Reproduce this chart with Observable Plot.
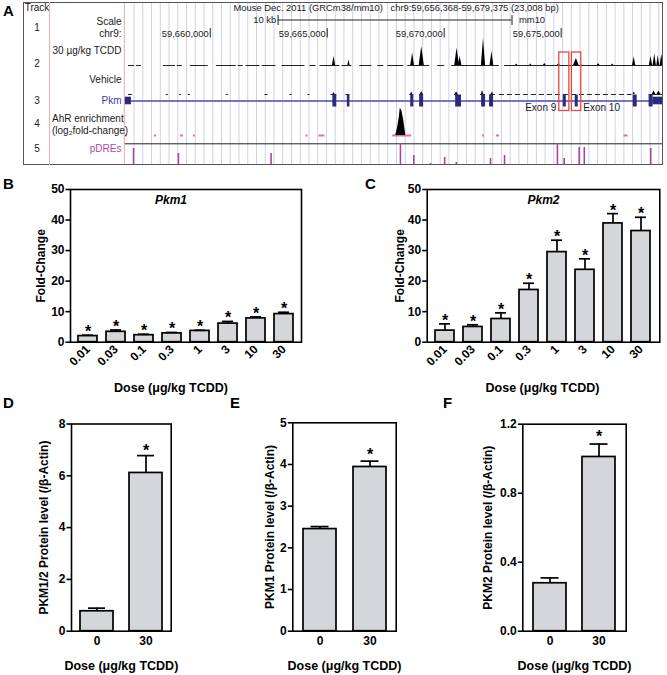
<!DOCTYPE html>
<html>
<head>
<meta charset="utf-8">
<script src="https://cdn.jsdelivr.net/npm/d3@7"></script>
<script src="https://cdn.jsdelivr.net/npm/@observablehq/plot@0.6"></script>
<style>
  body { margin: 0; background: #fff; }
  #fig { position: relative; width: 667px; height: 675px; overflow: hidden; background: #fff;
         font-family: "Liberation Sans", Arial, Helvetica, sans-serif; }
  #fig > * { position: absolute; }
</style>
</head>
<body>
<div id="fig"></div>
<script>
// ------------------------------------------------------------------
// DATA
// ------------------------------------------------------------------
// Panel A: UCSC browser view, chr9 positions in kb
const chromStart = 59656.368, chromEnd = 59679.375;
const chrTicks = [59660, 59665, 59670, 59675];
const scaleBar = [59662.90, 59672.90];           // 10 kb scale bar
// TCDD ChIP-seq signal: low-signal stretches and peaks (height in track units)
const tcddSegs = [[59656.50,59656.76],[59656.85,59657.06],[59658.00,59658.51],[59658.59,59658.81],
  [59659.15,59659.91],[59660.26,59661.11],[59661.19,59661.41],[59661.53,59662.13],[59662.22,59662.81],
  [59663.07,59664.05],[59664.26,59664.52],[59664.69,59665.54],[59665.63,59666.05],[59666.39,59666.91],
  [59667.16,59667.42],[59667.59,59668.27],[59668.44,59669.38],[59669.72,59670.02],[59670.32,59672.36],
  [59672.58,59679.375]];
const tcddPeakPos = [59665.29,59665.93,59668.65,59669.04,59670.55,59670.68,59671.68,59672.04,59673.10,59673.70,
  59674.30,59674.90,59675.65,59676.60,59677.20,59678.12,59678.84,59679.00,59679.15,59679.30];
const tcddPeakH   = [9,5.5,12.5,19,17.5,9,27,14,1.5,1.5,2,2,7,2,1.5,8.5,9,11.5,10,11];
const tcddPeakW   = [0.07,0.05,0.08,0.11,0.10,0.08,0.09,0.08,0.05,0.05,0.06,0.06,0.12,0.06,0.05,0.07,0.07,0.07,0.06,0.07];
// Vehicle signal
const vehSegs = [[59656.50,59656.67],[59658.12,59658.21],[59658.68,59658.76],[59659.06,59659.15],
  [59660.68,59660.77],[59662.34,59662.47],[59663.41,59663.50],[59664.18,59664.26],[59665.16,59665.41],
  [59665.80,59665.97],[59668.53,59668.70],[59668.95,59669.12],[59670.44,59670.61],[59671.55,59671.77],
  [59671.98,59672.19],[59678.76,59679.375]];
const vehLowSegs = [[59672.36,59678.03]];
const vehPeakPos = [59665.29,59668.61,59669.04,59670.53,59671.64,59672.06,59678.12,59678.97,59679.18];
const vehPeakH   = [2,2.5,3,2.5,4,2.5,2.5,3.5,3.5];
const vehPeakW   = [0.05,0.05,0.06,0.07,0.05,0.05,0.05,0.08,0.08];
// Pkm gene model exons
const exonStart = [chromStart,59665.24,59665.86,59668.57,59668.95,59670.49,59671.60,59671.94,59675.09,59675.60,59678.08,59678.76,59678.93];
const exonEnd   = [59656.63,59665.41,59665.97,59668.70,59669.12,59670.74,59671.77,59672.11,59675.22,59675.73,59678.25,59678.93,chromEnd];
const exonKind  = ["utr","cds","cds","cds","cds","cds","cds","cds","cds","cds","cds","cds","utr"];
// highlighted exons
const hlNames = ["Exon 9","Exon 10"];
const hlStart = [59674.92,59675.46];
const hlEnd   = [59675.35,59675.86];
// AhR enrichment
const ahrSegs = [[59656.37,59656.46],[59657.61,59657.70],[59658.72,59658.85],[59659.28,59659.36],
  [59664.09,59664.18],[59664.65,59664.90],[59667.80,59668.61],[59671.64,59671.72],[59672.23,59672.36],
  [59677.69,59677.86]];
const ahrPeakPos = [59667.93,59668.01,59668.08,59668.12,59668.19,59668.27,59668.36];
const ahrPeakH   = [0,8,18,27,25,15,0];
// pDREs
const pdrePos   = [59656.72,59658.64,59662.60,59668.13,59668.70,59669.41,59670.02,59670.52,59671.98,59672.58,
  59674.84,59675.13,59675.77,59675.99,59678.83];
const pdreScore = [17,12,12,22,10,2,8,3,7,10,22,7,18,18,17];

// Panels B, C: qRT-PCR dose response
const doses = ["0.01","0.03","0.1","0.3","1","3","10","30"];
const pkm1Mean = [2.0,3.4,2.3,2.9,3.7,6.1,7.8,9.2];
const pkm1Err  = [0.3,0.6,0.3,0.3,0.2,0.7,0.5,0.6];
const pkm1Sig  = [true,true,true,true,true,true,true,true];
const pkm2Mean = [3.8,5.0,7.6,17.1,29.5,23.7,38.9,36.4];
const pkm2Err  = [2.2,0.7,2.0,2.2,3.9,3.6,3.2,4.5];
const pkm2Sig  = [true,true,true,true,true,true,true,true];
// Panels D, E, F: protein levels
const protDoses = ["0","30"];
const protSig = [false,true];
const pkm12ProtMean = [0.77,6.11];
const pkm12ProtErr  = [0.12,0.67];
const pkm1ProtMean  = [2.45,3.94];
const pkm1ProtErr   = [0.06,0.14];
const pkm2ProtMean  = [0.278,1.01];
const pkm2ProtErr   = [0.031,0.075];

// ------------------------------------------------------------------
// LAYOUT / STYLE
// ------------------------------------------------------------------
const FONT = '"Liberation Sans", Arial, Helvetica, sans-serif';
const fig = document.getElementById("fig");
function place(node, left, top) { node.style.left = left + "px"; node.style.top = top + "px"; fig.appendChild(node); return node; }

// ---------------- Panel A ----------------
const A = {left: 23, top: 2, w: 640, h: 163, frameLeft: 124.8};
const row = {tcdd: 65, veh: 94, gene: 100.5, ahr: 135, pdreLine: 143.3, pdreBase: 165};
const dxL = px => px - A.frameLeft;   // offset into the left label column
const tri = (pos, h, w) => pos.flatMap((p, i) => [{id: i, x: p - w[i], h: 0}, {id: i, x: p, h: h[i]}, {id: i, x: p + w[i], h: 0}]);
const seg = arr => arr.map(([s, e]) => ({s, e}));
const gridLines = d3.range(1, 62).map(k => chromStart + k * 0.3739);
const exons = exonStart.map((s, i) => ({s, e: exonEnd[i], kind: exonKind[i]}));
const hl = hlNames.map((n, i) => ({name: n, s: hlStart[i], e: hlEnd[i]}));
const pdres = pdrePos.map((p, i) => ({pos: p, score: pdreScore[i]}));
const ahrPeak = ahrPeakPos.map((x, i) => ({id: 0, x, h: ahrPeakH[i]}));
const fmtBp = kb => d3.format(",")(Math.round(kb * 1000));

const tx = (arr, opts) => Plot.text(arr, {text: d => d.t, y: d => d.y, frameAnchor: "left", fontSize: 10, fill: "#1a1a1a", lineAnchor: "middle", ...opts});

const panelA = Plot.plot({
  width: A.w, height: A.h,
  marginLeft: A.frameLeft - A.left, marginRight: 0, marginTop: 0, marginBottom: 0,
  x: {domain: [chromStart, chromEnd], axis: null},
  y: {domain: [A.top, A.top + A.h], range: [0, A.h], axis: null},
  style: {fontFamily: FONT, fontSize: "10px", background: "transparent", overflow: "visible"},
  marks: [
    Plot.ruleX(gridLines, {stroke: "#cfd1e6", strokeWidth: 1}),
    Plot.ruleX([chromStart], {stroke: "#f0a8a8", strokeWidth: 1, dx: -1}),
    // header
    Plot.text(["Mouse Dec. 2011 (GRCm38/mm10)"], {text: d => d, y: () => 7.5, frameAnchor: "left", dx: 108.2, textAnchor: "start", fontSize: 9.4, fill: "#1a1a1a"}),
    Plot.text(["chr9:59,656,368-59,679,375 (23,008 bp)"], {text: d => d, y: () => 7.5, frameAnchor: "left", dx: 265.2, textAnchor: "start", fontSize: 9.4, fill: "#1a1a1a"}),
    // scale bar
    Plot.ruleY([scaleBar], {x1: d => d[0], x2: d => d[1], y: () => 19.5, stroke: "#222", strokeWidth: 1}),
    Plot.ruleX(scaleBar, {x: d => d, y1: () => 15, y2: () => 25, stroke: "#222", strokeWidth: 1}),
    Plot.text([scaleBar[0]], {x: d => d, y: () => 19.5, text: () => "10 kb", textAnchor: "end", dx: -2, fontSize: 9.4, fill: "#1a1a1a"}),
    Plot.text([scaleBar[1]], {x: d => d, y: () => 19.5, text: () => "mm10", textAnchor: "start", dx: 7, fontSize: 9.4, fill: "#1a1a1a"}),
    // chromosome position ticks
    Plot.ruleX(chrTicks, {x: d => d, y1: () => 28, y2: () => 37.5, stroke: "#222", strokeWidth: 1}),
    Plot.text(chrTicks, {x: d => d, y: () => 33, text: fmtBp, textAnchor: "end", dx: -1.5, fontSize: 9.4, fill: "#1a1a1a"}),
    // track 2: TCDD
    Plot.ruleY(seg(tcddSegs), {x1: "s", x2: "e", y: () => row.tcdd, stroke: "#222", strokeWidth: 1}),
    Plot.areaY(tri(tcddPeakPos, tcddPeakH, tcddPeakW), {x: "x", y1: () => row.tcdd, y2: d => row.tcdd - d.h, z: "id", fill: "#000", curve: "linear"}),
    // track 2: vehicle
    Plot.ruleY(seg(vehSegs), {x1: "s", x2: "e", y: () => row.veh, stroke: "#222", strokeWidth: 1}),
    Plot.ruleY(seg(vehLowSegs), {x1: "s", x2: "e", y: () => row.veh, stroke: "#222", strokeWidth: 1, strokeDasharray: "5,3"}),
    Plot.areaY(tri(vehPeakPos, vehPeakH, vehPeakW), {x: "x", y1: () => row.veh, y2: d => row.veh - d.h, z: "id", fill: "#000", curve: "linear"}),
    // track 3: gene
    Plot.ruleY([0], {x1: () => chromStart, x2: () => chromEnd, y: () => row.gene, stroke: "#4b4aa8", strokeWidth: 1.5}),
    Plot.rect(exons, {x1: "s", x2: "e", y1: d => row.gene - (d.kind === "cds" ? 6 : 3.8), y2: d => row.gene + (d.kind === "cds" ? 6 : 3.8), fill: "#2b2a7c"}),
    Plot.rect(hl, {x1: "s", x2: "e", y1: () => 52, y2: () => 110.5, fill: "none", stroke: "#e5483f", strokeWidth: 1.3}),
    Plot.text(hl.slice(0, 1), {x: "s", y: () => 107.5, text: "name", textAnchor: "end", dx: -3, fontSize: 10, fill: "#1a1a1a"}),
    Plot.text(hl.slice(1), {x: "e", y: () => 107.5, text: "name", textAnchor: "start", dx: 2, fontSize: 10, fill: "#1a1a1a"}),
    // track 4: AhR enrichment
    Plot.ruleY(seg(ahrSegs), {x1: "s", x2: "e", y: () => row.ahr, stroke: "#e66aa0", strokeWidth: 2}),
    Plot.areaY(ahrPeak, {x: "x", y1: () => row.ahr, y2: d => row.ahr - d.h, z: "id", fill: "#000", curve: "linear"}),
    // track 5: pDREs
    Plot.ruleY([row.pdreLine], {y: d => d, stroke: "#222", strokeWidth: 1}),
    Plot.ruleX(pdres, {x: "pos", y1: () => row.pdreBase, y2: d => row.pdreBase - d.score, stroke: "#a6479e", strokeWidth: 1.6}),
    // left label column
    tx([{t: "Track", y: 7.5}, {t: "1", y: 27.5}, {t: "2", y: 63.5}, {t: "3", y: 100.5}, {t: "4", y: 123.5}, {t: "5", y: 148}],
       {dx: dxL(36.5), textAnchor: "middle"}),
    tx([{t: "Scale", y: 21}, {t: "chr9:", y: 33}, {t: "30 µg/kg TCDD", y: 50.5}, {t: "Vehicle", y: 79}],
       {dx: dxL(121), textAnchor: "end"}),
    tx([{t: "Pkm", y: 100.5}], {dx: dxL(121), textAnchor: "end", fill: "#3c3aa0"}),
    tx([{t: "pDREs", y: 148}], {dx: dxL(121), textAnchor: "end", fill: "#b04aa6"}),
    tx([{t: "AhR enrichment", y: 118}, {t: "(log₂fold-change)", y: 130.5}], {dx: dxL(51.5), textAnchor: "start"})
  ]
});
place(panelA, A.left, A.top);
// browser border + label-column divider
const bdr = document.createElement("div");
Object.assign(bdr.style, {width: A.w + "px", height: A.h + "px", border: "1px solid #555", boxSizing: "border-box", pointerEvents: "none"});
place(bdr, A.left, A.top);
const div1 = document.createElement("div");
Object.assign(div1.style, {width: "1px", height: A.h + "px", background: "#f0b0b0"});
place(div1, 49, A.top);

// ---------------- Bar panels ----------------
function barPanel(c) {
  const rows = c.cats.map((cat, i) => ({cat, mean: c.mean[i], err: c.err[i], sig: c.sig[i]}));
  const marks = [
    Plot.barY(rows, {x: "cat", y: "mean", fill: "#d4d6da", stroke: "#000", strokeWidth: 1.7}),
    Plot.ruleX(rows, {x: "cat", y1: "mean", y2: d => d.mean + d.err, stroke: "#000", strokeWidth: 1.7}),
    Plot.tickY(rows, {x: "cat", y: d => d.mean + d.err, stroke: "#000", strokeWidth: 1.7, insetLeft: c.cap, insetRight: c.cap}),
    Plot.text(rows.filter(d => d.sig), {x: "cat", y: d => d.mean + d.err, text: () => "*", lineAnchor: "bottom", dy: c.starDy, fontSize: 16, fontWeight: "bold", fill: "#000"}),
    Plot.axisY({ticks: c.yTicks, tickFormat: c.tickFormat || d3.format("d"), tickSize: 4.5, tickPadding: 1.5, strokeWidth: 1.6,
                label: c.ylabel, labelAnchor: "center", labelOffset: c.labelOffset, labelArrow: false}),
    Plot.axisX({tickSize: 0, tickPadding: c.xPad, tickRotate: c.rotate || 0, label: null}),
    Plot.frame({stroke: "#000", strokeWidth: 1.6}),
    Plot.text([c.xlabel], {frameAnchor: "bottom", text: d => d, dy: c.xlabelDy, dx: c.xlabelDx || 0, fontSize: 12.5, fontWeight: "bold", lineAnchor: "middle", fill: "#000"})
  ];
  if (c.title) marks.push(Plot.text([c.title], {frameAnchor: "top", text: d => d, dy: 11, dx: c.titleDx || 0, fontStyle: "italic", fontWeight: "bold", fontSize: 12, lineAnchor: "middle", fill: "#000"}));
  return Plot.plot({
    width: c.width, height: c.height,
    marginLeft: c.ml, marginRight: c.mr, marginTop: c.mt, marginBottom: c.mb,
    style: {fontFamily: FONT, fontSize: "12px", fontWeight: "bold", color: "#000", background: "transparent", overflow: "visible"},
    x: {domain: c.cats, paddingInner: c.pi, paddingOuter: c.po},
    y: {domain: c.yDomain},
    marks
  });
}

const dose = "Dose (μg/kg TCDD)";
place(barPanel({cats: doses, mean: pkm1Mean, err: pkm1Err, sig: pkm1Sig, yDomain: [0, 50], yTicks: [0,10,20,30,40,50],
  width: 320, height: 215, ml: 70, mr: 19, mt: 9, mb: 53.3, pi: 0.316, po: 0.21, cap: 4, starDy: 2,
  ylabel: "Fold-Change", labelOffset: 34, rotate: -45, xPad: 5, xlabel: dose, xlabelDy: 46, xlabelDx: -15,
  title: "Pkm1", titleDx: -15}), 0, 180);
place(barPanel({cats: doses, mean: pkm2Mean, err: pkm2Err, sig: pkm2Sig, yDomain: [0, 50], yTicks: [0,10,20,30,40,50],
  width: 337, height: 215, ml: 96.7, mr: 7.7, mt: 9, mb: 53.3, pi: 0.316, po: 0.21, cap: 4, starDy: 2,
  ylabel: "Fold-Change", labelOffset: 32, rotate: -45, xPad: 5, xlabel: dose, xlabelDy: 46, xlabelDx: -1,
  title: "Pkm2", titleDx: 0}), 330, 180);
place(barPanel({cats: protDoses, mean: pkm12ProtMean, err: pkm12ProtErr, sig: protSig, yDomain: [0, 8], yTicks: [0,2,4,6,8],
  width: 225, height: 265, ml: 71, mr: 54.3, mt: 13.5, mb: 44.3, pi: 0.33, po: 0.176, cap: 8, starDy: 0,
  ylabel: "PKM1/2 Protein level (/β-Actin)", labelOffset: 32.5, xPad: 5, xlabel: dose, xlabelDy: 34.3}), 0, 410);
place(barPanel({cats: protDoses, mean: pkm1ProtMean, err: pkm1ProtErr, sig: protSig, yDomain: [0, 5], yTicks: [0,1,2,3,4,5],
  width: 225, height: 265, ml: 72.3, mr: 49.3, mt: 12.3, mb: 44.3, pi: 0.34, po: 0.2, cap: 7.5, starDy: -1,
  ylabel: "PKM1 Protein level (/β-Actin)", labelOffset: 27.7, xPad: 5, xlabel: dose, xlabelDy: 34.3}), 220, 410);
place(barPanel({cats: protDoses, mean: pkm2ProtMean, err: pkm2ProtErr, sig: protSig, yDomain: [0, 1.2], yTicks: [0,0.4,0.8,1.2],
  tickFormat: d3.format(".1f"),
  width: 227, height: 265, ml: 82.3, mr: 41.3, mt: 13.7, mb: 44.3, pi: 0.33, po: 0.22, cap: 7.5, starDy: -2,
  ylabel: "PKM2 Protein level (/β-Actin)", labelOffset: 39.7, xPad: 5, xlabel: dose, xlabelDy: 34.3}), 440, 410);

// ---------------- Panel letters ----------------
const letters = d3.create("svg").attr("width", 667).attr("height", 675).style("pointer-events", "none");
[["A", 3, 16], ["B", 3, 189], ["C", 365, 189], ["D", 3, 408], ["E", 230, 408], ["F", 443, 408]].forEach(([t, x, y]) =>
  letters.append("text").attr("x", x).attr("y", y).text(t)
    .attr("font-family", FONT).attr("font-weight", "bold").attr("font-size", 15).attr("fill", "#000"));
place(letters.node(), 0, 0);
</script>
</body>
</html>
